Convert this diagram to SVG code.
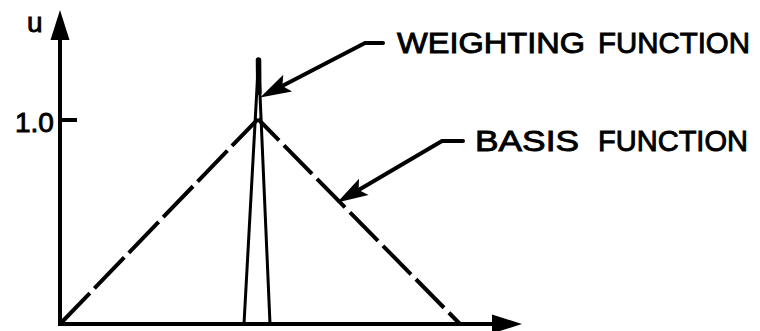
<svg xmlns="http://www.w3.org/2000/svg" width="760" height="331" viewBox="0 0 760 331">
  <style>
    .axis { fill: none; stroke: #000; stroke-width: 4; stroke-linecap: butt; }
    .tick { stroke: #000; stroke-width: 4; }
    .basis { fill: none; stroke: #000; stroke-width: 4; stroke-linecap: butt; }
    .weight { fill: none; stroke: #000; stroke-width: 3; stroke-linecap: round; }
    .leader { fill: none; stroke: #000; stroke-width: 4; stroke-linejoin: round; stroke-linecap: round; }
    .lbl { font-family: "Liberation Sans", Arial, sans-serif; font-size: 29px; fill: #000; stroke: #000; stroke-width: 0.9; }
    .num { font-family: "Liberation Sans", Arial, sans-serif; font-size: 28px; fill: #000; stroke: #000; stroke-width: 0.9; }
  </style>
  <defs>
    <marker id="axhead" markerUnits="userSpaceOnUse" orient="auto" refX="0" refY="0" markerWidth="40" markerHeight="40" overflow="visible">
      <path d="M20,0 L-10,-9.5 L-10,9.5 Z" fill="#000"/>
    </marker>
    <marker id="ldhead" markerUnits="userSpaceOnUse" orient="auto" refX="0" refY="0" markerWidth="40" markerHeight="40" overflow="visible">
      <path d="M21,0 L-10,-9.5 L-4,0 L-10,9.5 Z" fill="#000"/>
    </marker>
  </defs>
  <rect width="760" height="331" fill="#fff"/>

  <g id="axes">
    <path class="axis" d="M60,326 L60,30" marker-end="url(#axhead)"/>
    <path class="axis" d="M58,324 L502,324" marker-end="url(#axhead)"/>
    <line class="tick" x1="60" y1="120" x2="77" y2="120"/>
    <text class="num" x="27" y="32" font-size="26">u</text>
    <text class="num" x="15" y="132">1.0</text>
  </g>

  <g id="basis-function">
    <path class="basis" d="M60,324 L258,119" stroke-dasharray="43 6.5"/>
    <path class="basis" d="M258,119 L460,324" stroke-dasharray="40 7" stroke-dashoffset="10"/>
  </g>

  <g id="weighting-function">
    <path class="weight" d="M244,324 L258.5,60 L270,324"/>
    <path d="M258.5,60 L258.8,92" stroke="#000" stroke-width="5.5" stroke-linecap="round"/>
  </g>

  <g id="connectors">
    <path class="leader" d="M383,43 L365,43 L278.8,87.8" marker-end="url(#ldhead)"/>
    <path class="leader" d="M463,141 L442,141 L355.2,191.9" marker-end="url(#ldhead)"/>
  </g>

  <g id="label-weighting">
    <text class="lbl" y="53"><tspan x="397" textLength="188" lengthAdjust="spacingAndGlyphs">WEIGHTING</tspan><tspan x="598" textLength="152" lengthAdjust="spacingAndGlyphs">FUNCTION</tspan></text>
  </g>
  <g id="label-basis">
    <text class="lbl" y="151"><tspan x="475" textLength="104" lengthAdjust="spacingAndGlyphs">BASIS</tspan><tspan x="598" textLength="150" lengthAdjust="spacingAndGlyphs">FUNCTION</tspan></text>
  </g>
</svg>
